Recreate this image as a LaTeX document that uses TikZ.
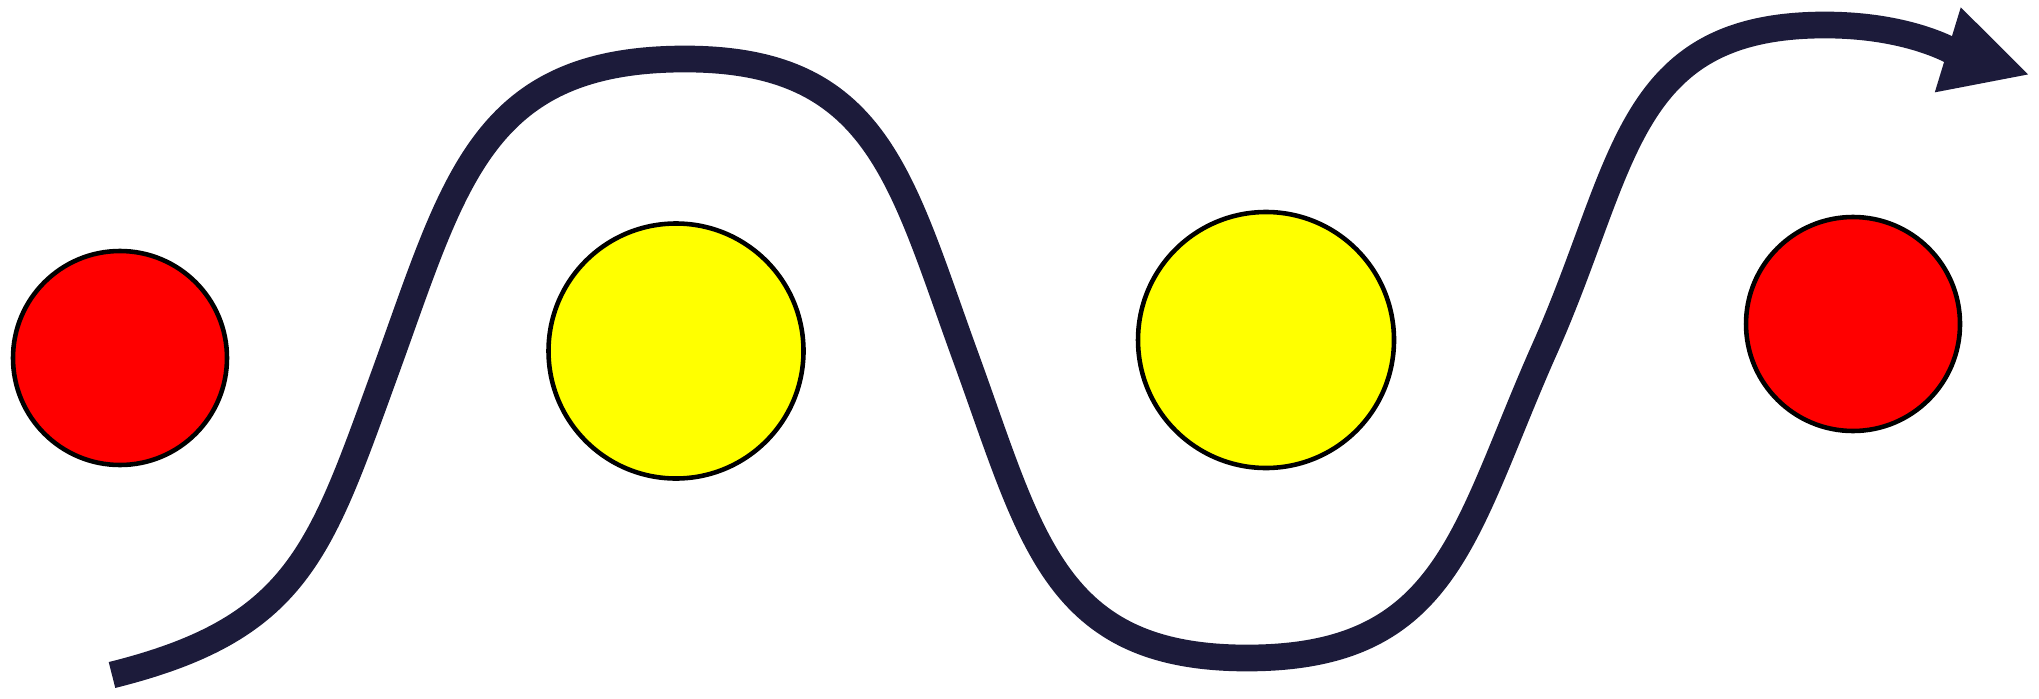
\documentclass[tikz,border=0pt]{standalone}
\usepackage{xcolor}
\usepackage{tikz}
\usetikzlibrary{arrows.meta}

\definecolor{granat}{RGB}{28,27,58}
\definecolor{zolty}{RGB}{255,255,0}
\definecolor{czerwony}{RGB}{255,0,0}

\begin{document}
\begin{tikzpicture}[
		kula/.style={circle, draw=black, line width=1.3pt, inner sep=0pt},
		sciezka/.style={granat, line width=7.6pt,
			-{Triangle[length=8.6mm, width=8.2mm]}}
	]
	\useasboundingbox (0,0) rectangle (20.39,6.98);
	
	% Kule
	\node[kula, fill=czerwony, minimum size=2.14cm] (czerwona1) at (1.20,3.40) {};
	\node[kula, fill=zolty, minimum size=2.55cm] (zolta1) at (6.76,3.47) {};
	\node[kula, fill=zolty, minimum size=2.56cm] (zolta2) at (12.66,3.58) {};
	\node[kula, fill=czerwony, minimum size=2.14cm] (czerwona2) at (18.53,3.74) {};
	
	% Tor ruchu
	\coordinate (start) at (1.12,0.23);
	\coordinate (w1) at (3.85,3.25);
	\coordinate (szczyt1) at (6.85,6.39);
	\coordinate (w2) at (9.66,3.40);
	\coordinate (dolina) at (12.47,0.40);
	\coordinate (w3) at (15.45,3.50);
	\coordinate (szczyt2) at (18.25,6.73);
	\coordinate (koniec) at (20.30,6.23);
	\draw[sciezka] (start) to[out=14, in=250, looseness=1.2] (w1)
		to[out=70, in=180, looseness=1.2] (szczyt1)
		to[out=0, in=110, looseness=1.2] (w2)
		to[out=-70, in=180, looseness=1.2] (dolina)
		to[out=0, in=246, looseness=1.2] (w3)
		to[out=66, in=180, looseness=1.2] (szczyt2)
		to[out=0, in=163] (koniec);
\end{tikzpicture}
\end{document}
